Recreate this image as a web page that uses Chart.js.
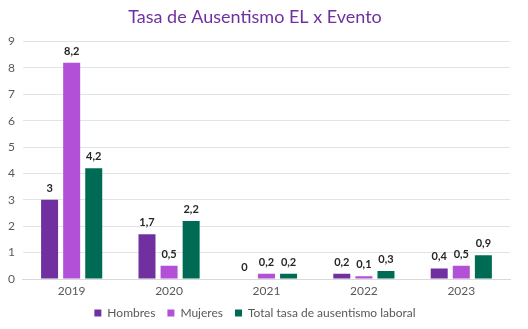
<!DOCTYPE html>
<html>
<head>
<meta charset="utf-8">
<script src="https://cdn.jsdelivr.net/npm/chart.js@4.4.1/dist/chart.umd.min.js"></script>
<style>
  html, body { margin: 0; padding: 0; background: #fff; }
  #wrap { width: 528px; height: 329px; position: relative; }
</style>
</head>
<body>
<div id="wrap"><canvas id="chart"></canvas></div>
<script>
// Tasa de ausentismo por año
const years = ['2019', '2020', '2021', '2022', '2023'];
const hombres = [3, 1.7, 0, 0.2, 0.4];
const mujeres = [8.2, 0.5, 0.2, 0.1, 0.5];
const total = [4.2, 2.2, 0.2, 0.3, 0.9];
const yTicks = [0, 1, 2, 3, 4, 5, 6, 7, 8, 9];

const fontFamily = "Lato, 'Open Sans', sans-serif";

// value labels above each bar, decimal comma
const valueLabels = {
    id: 'valueLabels',
    afterDatasetsDraw(chart) {
        const ctx = chart.ctx;
        ctx.save();
        ctx.font = 'bold 11px ' + fontFamily;
        ctx.fillStyle = '#262626';
        ctx.textAlign = 'center';
        ctx.textBaseline = 'bottom';
        chart.data.datasets.forEach((ds, i) => {
            chart.getDatasetMeta(i).data.forEach((bar, j) => {
                const txt = String(ds.data[j]).replace('.', ',');
                ctx.fillText(txt, bar.x, bar.y - 6);
            });
        });
        ctx.restore();
    }
};

// keep wide spacing between legend items but a fixed, shorter legend block
const legendHeight = {
    id: 'legendHeight',
    afterInit(chart) {
        const legend = chart.legend;
        const fit = legend.fit;
        legend.fit = function () {
            fit.call(this);
            this.height = 34;
        };
    }
};

new Chart(document.getElementById('chart'), {
    type: 'bar',
    data: {
        labels: years,
        datasets: [
            { label: 'Hombres', data: hombres, backgroundColor: '#7030A0' },
            { label: 'Mujeres', data: mujeres, backgroundColor: '#B250D8' },
            { label: 'Total tasa de ausentismo laboral', data: total, backgroundColor: '#006B55' }
        ]
    },
    options: {
        responsive: true,
        maintainAspectRatio: false,
        animation: false,
        categoryPercentage: 0.68,
        barPercentage: 0.77,
        layout: { padding: { left: 0, right: 18, top: 0, bottom: 0 } },
        scales: {
            x: {
                grid: { display: false, drawTicks: false },
                border: { color: '#d9d9d9' },
                ticks: { color: '#595959', font: { family: fontFamily, size: 12 }, padding: 5 },
                afterFit: scale => { scale.height = 16; }
            },
            y: {
                min: 0,
                max: 9,
                afterBuildTicks: axis => { axis.ticks = yTicks.map(v => ({ value: v })); },
                grid: { color: '#e3e3e3', drawTicks: false },
                border: { display: false },
                ticks: { color: '#595959', font: { family: fontFamily, size: 12 }, padding: 8 }
            }
        },
        plugins: {
            title: {
                display: true,
                text: 'Tasa de Ausentismo EL x Evento',
                color: '#7030A0',
                font: { family: fontFamily, size: 18, weight: 'normal' },
                padding: { top: 6, bottom: 14 }
            },
            legend: {
                position: 'bottom',
                labels: {
                    color: '#595959',
                    font: { family: fontFamily, size: 12 },
                    boxWidth: 7,
                    boxHeight: 7,
                    padding: 12
                }
            },
            tooltip: { enabled: false }
        }
    },
    plugins: [valueLabels, legendHeight]
});
</script>
</body>
</html>
